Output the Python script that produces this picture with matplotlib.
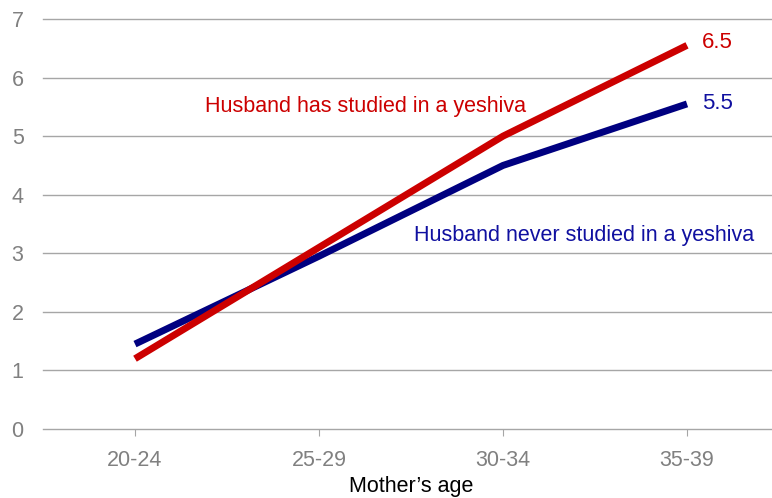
import matplotlib.pyplot as plt

plt.rcParams['font.family'] = ['Liberation Sans', 'DejaVu Sans']

ages = ['20-24', '25-29', '30-34', '35-39']
studied = [1.2, 3.1, 5.0, 6.55]
never = [1.45, 2.95, 4.5, 5.55]

red = '#CC0000'
navy = '#000080'
grey = '#808080'

fig = plt.figure(figsize=(7.72, 4.98), dpi=100)
ax = fig.add_axes([43 / 772, 69 / 498, 736 / 772, 410 / 498])

x = range(len(ages))
ax.plot(x, never, color=navy, lw=5, solid_capstyle='butt', zorder=3)
ax.plot(x, studied, color=red, lw=5, solid_capstyle='butt', zorder=4)

ax.set_xlim(-0.5, 3.5)
ax.set_ylim(0, 7)
ax.set_xticks(list(x))
ax.set_xticklabels(ages)
ax.set_yticks(range(8))
ax.yaxis.grid(True, color='#A6A6A6', lw=1)
for gl in ax.get_ygridlines():
    gl.set_clip_on(False)
ax.set_axisbelow(True)
for s in ax.spines.values():
    s.set_visible(False)
ax.tick_params(axis='y', length=0, pad=14, labelsize=15.5, labelcolor=grey)
ax.tick_params(axis='x', length=5, color='#A6A6A6', pad=10, labelsize=15.5, labelcolor=grey)
ax.set_xlabel('Mother\u2019s age', fontsize=15.5, color='black', labelpad=4)

# series labels
ax.text(1.255, 5.51, 'Husband has studied in a yeshiva', color=red,
        fontsize=15.5, ha='center', va='center')
ax.text(2.44, 3.31, 'Husband never studied in a yeshiva', color='#1010A0',
        fontsize=15.5, ha='center', va='center')
ax.annotate('6.5', (3, studied[-1]), xytext=(11, 2), textcoords='offset points',
            color=red, fontsize=16, ha='left', va='center')
ax.annotate('5.5', (3, never[-1]), xytext=(11, 0), textcoords='offset points',
            color='#1010A0', fontsize=16, ha='left', va='center')

plt.savefig('out.png', dpi=100)
